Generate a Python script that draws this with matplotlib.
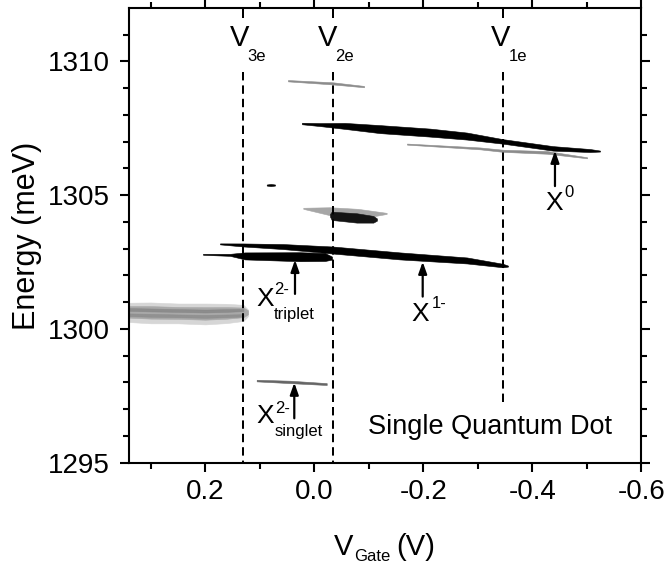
import numpy as np
import matplotlib
matplotlib.use("Agg")
import matplotlib.pyplot as plt

plt.rcParams['font.family'] = ['Liberation Sans', 'DejaVu Sans']

# ---------------- data ----------------
# axis ranges / ticks
x_lim = (0.3407, -0.6)
y_lim = (1295, 1312)
x_major = [0.2, 0.0, -0.2, -0.4, -0.6]
x_major_labels = ["0.2", "0.0", "-0.2", "-0.4", "-0.6"]
x_minor = [0.3, 0.1, -0.1, -0.3, -0.5]
y_major = [1295, 1300, 1305, 1310]
y_major_labels = ["1295", "1300", "1305", "1310"]
y_minor = [1296, 1297, 1298, 1299, 1301, 1302, 1303, 1304, 1306, 1307, 1308, 1309, 1311]

# charging voltages (dashed lines)
v_names = ["3e", "2e", "1e"]
v_pos = [0.1303, -0.0349, -0.3468]
v_bottom = [1295.0, 1295.0, 1297.27]
v_label_x = [0.1369, -0.0242, -0.3422]
v_label_E = 1310.87

# X0 main emission line: gate voltage, centre energy, line width (meV)
x0_V = [0.0226, -0.0105, -0.0563, -0.1206, -0.2123, -0.2802, -0.3462, -0.4380, -0.5059, -0.5242]
x0_E = [1307.68, 1307.64, 1307.59, 1307.47, 1307.34, 1307.21, 1307.01, 1306.75, 1306.67, 1306.65]
x0_W = [0.056, 0.112, 0.224, 0.299, 0.299, 0.262, 0.168, 0.168, 0.112, 0.037]

# weak line below X0
x0b_V = [-0.1701, -0.3040, -0.3462, -0.4270, -0.5004]
x0b_E = [1306.91, 1306.75, 1306.66, 1306.60, 1306.40]
x0b_W = [0.04, 0.07, 0.08, 0.10, 0.04]

# faint line at the top
top_V = [0.0483, -0.0343, -0.0912]
top_E = [1309.28, 1309.18, 1309.06]
top_W = [0.05, 0.08, 0.05]

# short dash near 1305.4 meV
dot_V = [0.0873, 0.0800, 0.0721]
dot_E = [1305.38, 1305.38, 1305.38]
dot_W = [0.04, 0.08, 0.04]

# blob around 1304.2 meV: grey tail and dark core
blobg_V = [0.0202, -0.0288, -0.0800, -0.1328]
blobg_E = [1304.51, 1304.40, 1304.30, 1304.32]
blobg_W = [0.04, 0.30, 0.38, 0.04]
blobd_V = [-0.0288, -0.0319, -0.0778, -0.1083, -0.1150]
blobd_E = [1304.25, 1304.23, 1304.15, 1304.10, 1304.09]
blobd_W = [0.10, 0.31, 0.35, 0.25, 0.08]

# X1- line (upper long line)
x1_V = [0.1730, 0.1308, 0.0574, -0.0343, -0.1572, -0.2802, -0.3462, -0.3554]
x1_E = [1303.18, 1303.14, 1303.08, 1302.95, 1302.73, 1302.56, 1302.37, 1302.35]
x1_W = [0.037, 0.112, 0.187, 0.262, 0.262, 0.224, 0.131, 0.037]

# X2- triplet line
x2t_V = [0.2042, 0.1547, 0.1272, 0.0262, -0.0196, -0.0325]
x2t_E = [1302.79, 1302.77, 1302.73, 1302.70, 1302.69, 1302.65]
x2t_W = [0.037, 0.075, 0.262, 0.336, 0.299, 0.112]

# X2- singlet line
x2s_V = [0.1057, 0.0446, -0.0228]
x2s_E = [1298.07, 1298.02, 1297.94]
x2s_W = [0.06, 0.09, 0.07]

# broad grey emission at low energy / positive gate
bl_V = [0.3407, 0.30, 0.25, 0.20, 0.16, 0.13, 0.1217]
bl_E = [1300.62, 1300.60, 1300.58, 1300.56, 1300.58, 1300.60, 1300.60]
bl_W = [0.72, 0.78, 0.74, 0.78, 0.72, 0.60, 0.25]

# arrows: gate voltage, tail energy, tip energy
arr_V = [-0.4416, -0.1989, 0.0354, 0.0367]
arr_tail = [1305.34, 1301.21, 1301.31, 1296.66]
arr_tip = [1306.66, 1302.51, 1302.58, 1297.99]

# state labels
lab_V = [-0.4398, -0.1939, 0.0905, 0.0905]
lab_E = [1304.71, 1300.56, 1301.12, 1296.75]
lab_sup = ["0", "1-", "2-", "2-"]
lab_sub = [None, None, "triplet", "singlet"]

title_text = "Single Quantum Dot"
title_V, title_E = -0.3224, 1296.32

# ---------------- figure ----------------
W, H = 667, 563
fig = plt.figure(figsize=(W / 100, H / 100), dpi=100)
ax = fig.add_axes([128.6 / W, 1 - 462.7 / H, (641.3 - 128.6) / W, (462.7 - 7.95) / H])


def band(V, E, Wd, color, alpha=1.0, z=2):
    V = np.asarray(V); E = np.asarray(E); Wd = np.asarray(Wd)
    ax.fill_between(V, E - Wd / 2, E + Wd / 2, color=color, alpha=alpha,
                    lw=0.4, edgecolor=color, zorder=z)


# broad grey emission
band(bl_V, bl_E, bl_W, '0.84')
band(bl_V, np.asarray(bl_E) + 0.02, np.asarray(bl_W) * 0.6, '0.66')
band(bl_V[:-1], np.asarray(bl_E[:-1]) + 0.11, np.asarray(bl_W[:-1]) * 0.14, '0.52', alpha=0.8)
band(bl_V[:-1], np.asarray(bl_E[:-1]) - 0.09, np.asarray(bl_W[:-1]) * 0.14, '0.55', alpha=0.8)

# lines
band(top_V, top_E, top_W, '0.55')
band(x0b_V, x0b_E, x0b_W, '0.55')
band(x0_V, x0_E, x0_W, 'black')
band(dot_V, dot_E, dot_W, 'black')
band(blobg_V, blobg_E, blobg_W, '0.65')
band(blobd_V, blobd_E, blobd_W, '0.08')
band(x1_V, x1_E, x1_W, 'black')
band(x2t_V, x2t_E, x2t_W, 'black')
band(x2s_V, x2s_E, x2s_W, '0.4')

# dashed charging lines
dash = (0, (4.2, 2.5))
for xv, yb in zip(v_pos, v_bottom):
    ax.plot([xv, xv], [1309.60, yb], color='black', lw=1.44, linestyle=dash, zorder=3)
    ax.plot([xv, xv], [1311.95, 1311.62], color='black', lw=1.44, linestyle='-',
            solid_capstyle='butt', zorder=3)

for xl, nm in zip(v_label_x, v_names):
    ax.text(xl, v_label_E, "V", ha='center', va='center', fontsize=21, zorder=4)
    ax.annotate(nm, (xl, v_label_E), xytext=(7.5, -18.4), textcoords='offset pixels',
                ha='left', va='center', fontsize=12, zorder=4)

# arrows
for xv, t0, t1 in zip(arr_V, arr_tail, arr_tip):
    ax.annotate('', xy=(xv, t1), xytext=(xv, t0),
                arrowprops=dict(arrowstyle='-|>,head_length=0.7,head_width=0.25',
                                mutation_scale=10, lw=1.6, color='black',
                                shrinkA=0, shrinkB=0), zorder=4)

# labels
sup_off = [(10.3, 10.2), (11.7, 10.0), (9.0, 9.0), (10.0, 7.5)]
sub_off = [None, None, (8.3, -16.0), (10.0, -16.0)]
for xv, ev, sp, sb, so, bo in zip(lab_V, lab_E, lab_sup, lab_sub, sup_off, sub_off):
    ax.text(xv, ev, "X", ha='center', va='center', fontsize=19, zorder=4)
    ax.annotate(sp, (xv, ev), xytext=so, textcoords='offset pixels',
                ha='left', va='center', fontsize=12, zorder=4)
    if sb is not None:
        ax.annotate(sb, (xv, ev), xytext=bo, textcoords='offset pixels',
                    ha='left', va='center', fontsize=12, zorder=4)

ax.text(title_V, title_E, title_text, ha='center', va='center', fontsize=19.5, zorder=4)

# axes styling
ax.set_xlim(*x_lim)
ax.set_ylim(*y_lim)
ax.set_xticks(x_major)
ax.set_xticklabels(x_major_labels)
ax.set_xticks(x_minor, minor=True)
ax.set_yticks(y_major)
ax.set_yticklabels(y_major_labels)
ax.set_yticks(y_minor, minor=True)
for s in ax.spines.values():
    s.set_linewidth(1.5)
ax.tick_params(which='both', direction='out', top=True, right=True,
               labeltop=False, labelright=False, width=1.5)
ax.tick_params(which='major', length=6.7, labelsize=20)
ax.tick_params(axis='x', which='major', pad=5.0)
ax.tick_params(axis='y', which='major', pad=7.0)
ax.tick_params(which='minor', length=4.3)

# axis labels
fig.text(27 / W, 1 - 235.5 / H, "Energy (meV)", rotation=90, ha='center', va='center', fontsize=22)
fig.text(344 / W, 1 - 555 / H, "V", ha='center', va='baseline', fontsize=21)
fig.text(354 / W, 1 - 561 / H, "Gate", ha='left', va='baseline', fontsize=12)
fig.text(415.5 / W, 1 - 555 / H, "(V)", ha='center', va='baseline', fontsize=21)

fig.savefig("out.png", dpi=100)
